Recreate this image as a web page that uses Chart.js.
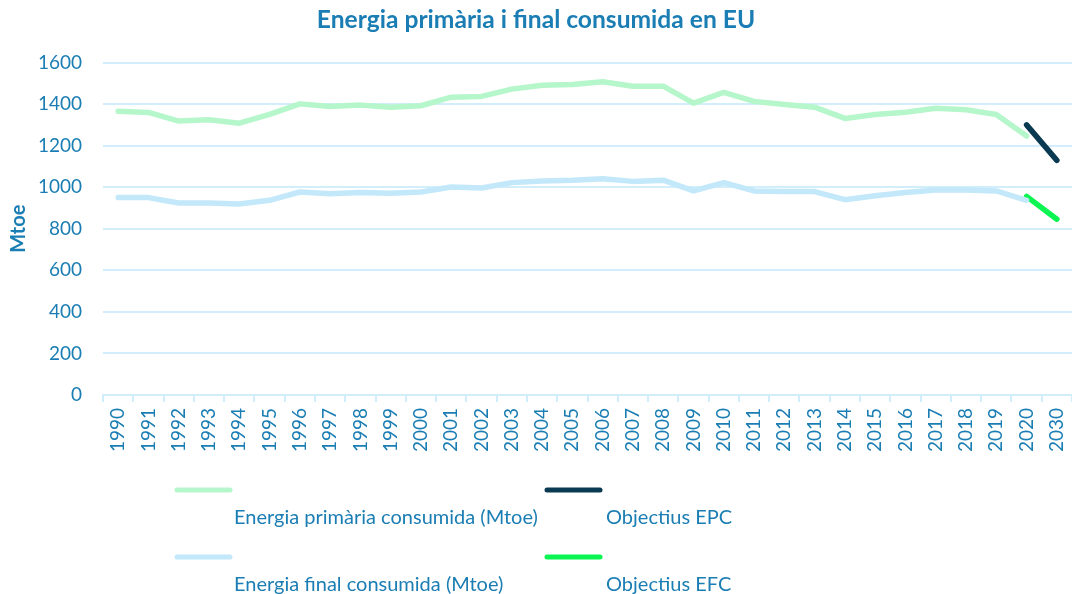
<!DOCTYPE html>
<html>
<head>
<meta charset="utf-8">
<script src="https://cdn.jsdelivr.net/npm/chart.js@4/dist/chart.umd.min.js"></script>
<style>
html,body{margin:0;padding:0;background:#fff;}
#wrap{width:1072px;height:594px;position:relative;}
</style>
</head>
<body>
<div id="wrap"><canvas id="c" width="1072" height="594"></canvas></div>
<script>
const years = ['1990','1991','1992','1993','1994','1995','1996','1997','1998','1999','2000','2001','2002','2003','2004','2005','2006','2007','2008','2009','2010','2011','2012','2013','2014','2015','2016','2017','2018','2019','2020','2030'];
const primaryEnergy = [1365,1360,1318,1325,1308,1350,1401,1388,1395,1385,1392,1433,1437,1472,1491,1494,1507,1486,1486,1405,1456,1413,1398,1385,1331,1350,1361,1380,1373,1350,1246,null];
const finalEnergy = [950,950,924,924,919,937,977,969,974,971,977,1001,996,1022,1030,1033,1041,1028,1034,982,1022,982,979,979,940,959,975,986,986,982,937,null];
const targetEPC = [null,null,null,null,null,null,null,null,null,null,null,null,null,null,null,null,null,null,null,null,null,null,null,null,null,null,null,null,null,null,1300,1129];
const targetEFC = [null,null,null,null,null,null,null,null,null,null,null,null,null,null,null,null,null,null,null,null,null,null,null,null,null,null,null,null,null,null,956,846];
const yTicks = [0,200,400,600,800,1000,1200,1400,1600];
const seriesNames = ['Energia primària consumida (Mtoe)','Energia final consumida (Mtoe)','Objectius EPC','Objectius EFC'];

const TXT = '#1a7db3';
const GRID = '#d2eefb';
const FONT = 'Lato';

const legendPlugin = {
  id: 'customLegend',
  afterDraw(chart) {
    const ctx = chart.ctx;
    const ds = chart.data.datasets;
    const cols = [175, 545];
    const rows = [490, 557];
    const textOffsetX = [59, 61];
    const items = [[0,0,0],[1,0,1],[2,1,0],[3,1,1]];
    ctx.save();
    items.forEach(([i,c,r]) => {
      const x = cols[c], y = rows[r];
      ctx.strokeStyle = ds[i].borderColor;
      ctx.lineWidth = 5;
      ctx.lineCap = 'round';
      ctx.beginPath();
      ctx.moveTo(x+2, y);
      ctx.lineTo(x+55, y);
      ctx.stroke();
      ctx.fillStyle = TXT;
      ctx.font = '20px ' + FONT;
      ctx.textBaseline = 'middle';
      ctx.textAlign = 'left';
      ctx.fillText(ds[i].label, x + textOffsetX[c], y + 28);
    });
    ctx.restore();
  }
};

new Chart(document.getElementById('c'), {
  type: 'line',
  data: {
    labels: years,
    datasets: [
      {label: seriesNames[0], data: primaryEnergy, borderColor: '#b6f6cb', borderWidth: 5.5, pointRadius: 0, tension: 0, borderCapStyle: 'round', borderJoinStyle: 'round'},
      {label: seriesNames[1], data: finalEnergy, borderColor: '#c2e8fa', borderWidth: 5.5, pointRadius: 0, tension: 0, borderCapStyle: 'round', borderJoinStyle: 'round'},
      {label: seriesNames[2], data: targetEPC, borderColor: '#0a3a52', borderWidth: 5.5, pointRadius: 0, tension: 0, borderCapStyle: 'round'},
      {label: seriesNames[3], data: targetEFC, borderColor: '#0af552', borderWidth: 5.5, pointRadius: 0, tension: 0, borderCapStyle: 'round'}
    ]
  },
  options: {
    responsive: false,
    animation: false,
    layout: {padding: {left: 0, right: 0, top: 0, bottom: 129}},
    plugins: {
      legend: {display: false},
      tooltip: {enabled: false},
      title: {
        display: true,
        text: 'Energia primària i final consumida en EU',
        color: TXT,
        font: {family: FONT, size: 24.6, weight: 'bold'},
        padding: {top: 5, bottom: 28}
      }
    },
    scales: {
      x: {
        offset: true,
        grid: {offset: true, drawOnChartArea: false, color: GRID, tickLength: 7, lineWidth: 2},
        border: {color: GRID, width: 2},
        ticks: {color: TXT, font: {family: FONT, size: 19}, minRotation: 90, maxRotation: 90, padding: 6, autoSkip: false},
        afterFit(s) { s.height = 70; s.paddingLeft = 0; s.paddingRight = 0; }
      },
      y: {
        min: 0, max: 1600,
        afterBuildTicks(s) { s.ticks = yTicks.map(v => ({value: v})); },
        grid: {color: GRID, lineWidth: 2, drawTicks: false},
        border: {display: false},
        ticks: {color: TXT, font: {family: FONT, size: 19}, padding: 21, callback: v => String(v)},
        title: {display: true, text: 'Mtoe', color: TXT, font: {family: FONT, size: 20, weight: 'bold'}, padding: {top: 7, bottom: 4}},
        afterFit(s) { s.width = 103; s.paddingTop = 0; s.paddingBottom = 0; }
      }
    }
  },
  plugins: [legendPlugin]
});
</script>
</body>
</html>
